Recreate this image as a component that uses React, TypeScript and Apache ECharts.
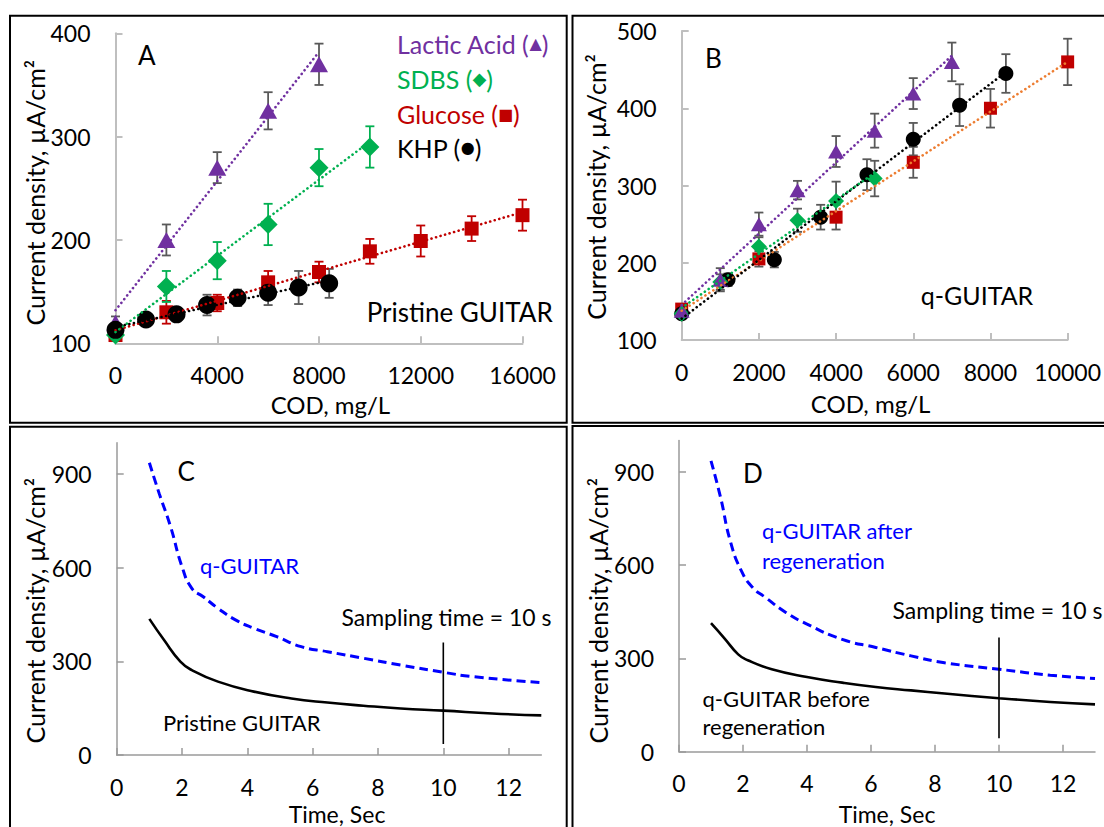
import React, { useEffect, useRef } from 'react';
import * as echarts from 'echarts';

// ---------- Panel A: Pristine GUITAR (COD mg/L vs current density) ----------
const A_LACTIC_X = [0, 2000, 4000, 6000, 8000];
const A_LACTIC_Y = [120, 200, 270, 325, 370];
const A_LACTIC_ERR = [6, 15, 15, 18, 20];
const A_SDBS_X = [0, 2000, 4000, 6000, 8000, 10000];
const A_SDBS_Y = [108, 155, 180, 215, 270, 290];
const A_SDBS_ERR = [4, 15, 18, 20, 18, 20];
const A_GLU_X = [0, 2000, 4000, 6000, 8000, 10000, 12000, 14000, 16000];
const A_GLU_Y = [108, 130, 139, 159, 169, 189, 199, 211, 224];
const A_GLU_ERR = [4, 11, 8, 11, 10, 12, 15, 12, 15];
const A_KHP_X = [0, 1200, 2400, 3600, 4800, 6000, 7200, 8400];
const A_KHP_Y = [113, 123, 128, 137, 144, 149, 154, 158];
const A_KHP_ERR = [4, 5, 6, 10, 8, 12, 16, 14];

// ---------- Panel B: q-GUITAR ----------
const B_LACTIC_X = [0, 1000, 2000, 3000, 4000, 5000, 6000, 7000];
const B_LACTIC_Y = [138, 178, 250, 294, 344, 371, 419, 460];
const B_LACTIC_ERR = [6, 15, 15, 12, 20, 22, 20, 25];
const B_SDBS_X = [0, 1000, 2000, 3000, 4000, 5000];
const B_SDBS_Y = [134, 175, 221, 255, 280, 309];
const B_SDBS_ERR = [5, 10, 12, 15, 25, 23];
const B_GLU_X = [0, 2000, 4000, 6000, 8000, 10000];
const B_GLU_Y = [140, 205, 259, 330, 400, 460];
const B_GLU_ERR = [5, 10, 16, 20, 25, 30];
const B_KHP_X = [0, 1200, 2400, 3600, 4800, 6000, 7200, 8400];
const B_KHP_Y = [134, 178, 204, 259, 314, 360, 404, 445];
const B_KHP_ERR = [5, 8, 10, 16, 20, 21, 27, 25];

// ---------- Panel C: current transients ----------
const C_Q_T = [1.0, 1.3, 1.65, 2.0, 2.3, 2.65, 3.1, 3.65, 4.2, 4.9, 5.65, 6.45, 7.55, 8.7, 10, 10.9, 13];
const C_Q_V = [936, 838, 731, 603, 534, 507, 470, 432, 406, 379, 347, 331, 310, 288, 265, 251, 232];
const C_P_T = [1.0, 1.45, 1.95, 2.3, 3.1, 4.2, 5.35, 6.45, 7.55, 8.7, 10, 11.5, 13];
const C_P_V = [436, 368, 299, 272, 235, 203, 181, 168, 158, 149, 142, 133, 127];
const C_SAMPLE_T = [10, 10];
const C_SAMPLE_V = [35, 360];

// ---------- Panel D: regeneration ----------
const D_Q_T = [1.0, 1.3, 1.6, 1.95, 2.3, 2.7, 3.35, 4.0, 5.1, 6.15, 7.25, 8.3, 10, 11.6, 13];
const D_Q_V = [935, 817, 678, 581, 528, 496, 447, 410, 361, 335, 308, 286, 265, 246, 235];
const D_P_T = [1.0, 1.4, 1.85, 2.15, 2.9, 4.0, 5.1, 6.15, 7.25, 8.3, 10, 11.6, 13];
const D_P_V = [413, 367, 313, 294, 265, 240, 222, 208, 197, 187, 172, 160, 152];
const D_SAMPLE_T = [10, 10];
const D_SAMPLE_V = [43, 367];

const CD_Y_TICKS = [0, 300, 600, 900];
const CD_X_TICKS = [0, 2, 4, 6, 8, 10, 12];

const FONT = 'Lato, "Open Sans", sans-serif';
const PURPLE = '#7030A0';
const GREEN = '#00B050';
const RED = '#C00000';
const ORANGE = '#ED7D31';
const BLUE = '#0000FF';
const ERR_GREY = '#595959';

const zip = (xs: number[], ys: number[]) => xs.map((x, i) => [x, ys[i]]);

function fitLine(xs: number[], ys: number[]) {
  const n = xs.length;
  const mx = xs.reduce((a, b) => a + b, 0) / n;
  const my = ys.reduce((a, b) => a + b, 0) / n;
  let sxy = 0;
  let sxx = 0;
  for (let i = 0; i < n; i++) {
    sxy += (xs[i] - mx) * (ys[i] - my);
    sxx += (xs[i] - mx) * (xs[i] - mx);
  }
  const k = sxy / sxx;
  const b = my - k * mx;
  return [
    [xs[0], b + k * xs[0]],
    [xs[n - 1], b + k * xs[n - 1]],
  ];
}

function errSeries(gi: number, xs: number[], ys: number[], errs: number[], color: string, cap: number) {
  return {
    type: 'custom',
    xAxisIndex: gi,
    yAxisIndex: gi,
    z: 1,
    silent: true,
    data: xs.map((x, i) => [x, ys[i] - errs[i], ys[i] + errs[i]]),
    encode: { x: 0, y: [1, 2] },
    renderItem: (_p: any, api: any) => {
      const lo = api.coord([api.value(0), api.value(1)]);
      const hi = api.coord([api.value(0), api.value(2)]);
      const style = { stroke: color, lineWidth: 1.8 };
      return {
        type: 'group',
        children: [
          { type: 'line', shape: { x1: lo[0], y1: lo[1], x2: hi[0], y2: hi[1] }, style },
          { type: 'line', shape: { x1: lo[0] - cap, y1: lo[1], x2: lo[0] + cap, y2: lo[1] }, style },
          { type: 'line', shape: { x1: hi[0] - cap, y1: hi[1], x2: hi[0] + cap, y2: hi[1] }, style },
        ],
      };
    },
  };
}

function scatter(gi: number, name: string, xs: number[], ys: number[], symbol: string, size: any, color: string, z = 2) {
  return {
    type: 'scatter',
    name,
    xAxisIndex: gi,
    yAxisIndex: gi,
    z,
    symbol,
    symbolSize: size,
    itemStyle: { color, opacity: 1 },
    data: zip(xs, ys),
  };
}

function trend(gi: number, xs: number[], ys: number[], color: string) {
  return {
    type: 'line',
    xAxisIndex: gi,
    yAxisIndex: gi,
    z: 3,
    symbol: 'none',
    silent: true,
    data: fitLine(xs, ys),
    lineStyle: { color, width: 2.6, type: [0.1, 4.6], cap: 'round' },
  };
}

function curve(gi: number, ts: number[], vs: number[], color: string, dashed: boolean) {
  return {
    type: 'line',
    xAxisIndex: gi,
    yAxisIndex: gi,
    z: 3,
    symbol: 'none',
    smooth: 0.5,
    silent: true,
    data: zip(ts, vs),
    lineStyle: dashed ? { color, width: 3, type: [9, 5] } : { color, width: 2.6, type: 'solid' },
  };
}

function vline(gi: number, ts: number[], vs: number[]) {
  return {
    type: 'line',
    xAxisIndex: gi,
    yAxisIndex: gi,
    z: 4,
    symbol: 'none',
    silent: true,
    data: zip(ts, vs),
    lineStyle: { color: '#000', width: 1.6 },
  };
}

const topAxisColor = '#BFBFBF';
const botAxisColor = '#9A9A9A';

function axisBase(color: string, margin: number, width = 2, customValues?: number[]) {
  const label: any = {
    color: '#000',
    fontSize: 23,
    fontFamily: FONT,
    margin,
    formatter: (v: number) => String(v),
  };
  const tick: any = { show: true, inside: true, length: 7, lineStyle: { color, width } };
  if (customValues) {
    label.customValues = customValues;
    tick.customValues = customValues;
  }
  return {
    splitLine: { show: false },
    axisLine: { show: true, onZero: false, lineStyle: { color, width } },
    axisTick: tick,
    axisLabel: label,
  };
}

function txt(text: string, x: number, y: number, size: number, color = '#000', align = 'left', rotation = 0) {
  return {
    type: 'text',
    x,
    y,
    rotation,
    z: 50,
    style: { text, fill: color, fontSize: size, fontFamily: FONT, align, verticalAlign: 'middle' },
  };
}

function legendTxt(label: string, sym: string, x: number, y: number, color: string, symSize: number) {
  return {
    type: 'text',
    x,
    y,
    z: 50,
    style: {
      text: `{t|${label} (}{s|${sym}}{t|)}`,
      fill: color,
      align: 'left',
      verticalAlign: 'middle',
      rich: {
        t: { fontSize: 25, fontFamily: FONT, fill: color },
        s: { fontSize: symSize, fontFamily: 'DejaVu Sans', fill: color },
      },
    },
  };
}

function box(x: number, y: number, w: number, h: number) {
  return {
    type: 'rect',
    z: 60,
    shape: { x, y, width: w, height: h },
    style: { fill: 'none', stroke: '#000', lineWidth: 2 },
  };
}

const Y_TITLE = 'Current density, µA/cm²';

export default function App() {
  const ref = useRef<HTMLDivElement>(null);
  useEffect(() => {
    if (!ref.current) return;
    const chart = echarts.init(ref.current, undefined, { renderer: 'svg' });
    const option: any = {
      animation: false,
      backgroundColor: '#fff',
      grid: [
        { left: 115.5, top: 33.3, width: 407, height: 310 },
        { left: 681.7, top: 31, width: 392.6, height: 309 },
        { left: 116.7, top: 442.8, width: 424.6, height: 312.2 },
        { left: 679, top: 440.6, width: 416, height: 311.1 },
      ],
      xAxis: [
        { gridIndex: 0, type: 'value', min: 0, max: 16000, interval: 4000, ...axisBase(topAxisColor, 20) },
        { gridIndex: 1, type: 'value', min: 0, max: 10000, interval: 2000, ...axisBase(topAxisColor, 20) },
        { gridIndex: 2, type: 'value', min: 0, max: 13, ...axisBase(botAxisColor, 20, 1.5, CD_X_TICKS) },
        { gridIndex: 3, type: 'value', min: 0, max: 13, ...axisBase(botAxisColor, 20, 1.5, CD_X_TICKS) },
      ],
      yAxis: [
        { gridIndex: 0, type: 'value', min: 100, max: 400, interval: 100, ...axisBase(topAxisColor, 25) },
        { gridIndex: 1, type: 'value', min: 100, max: 500, interval: 100, ...axisBase(topAxisColor, 25) },
        { gridIndex: 2, type: 'value', min: 0, max: 1000, ...axisBase(botAxisColor, 25, 1.5, CD_Y_TICKS) },
        { gridIndex: 3, type: 'value', min: 0, max: 1000, ...axisBase(botAxisColor, 25, 1.5, CD_Y_TICKS) },
      ],
      series: [
        // Panel A
        errSeries(0, A_GLU_X, A_GLU_Y, A_GLU_ERR, RED, 4.5),
        errSeries(0, A_SDBS_X, A_SDBS_Y, A_SDBS_ERR, GREEN, 4.5),
        errSeries(0, A_LACTIC_X, A_LACTIC_Y, A_LACTIC_ERR, ERR_GREY, 4.5),
        errSeries(0, A_KHP_X, A_KHP_Y, A_KHP_ERR, ERR_GREY, 4.5),
        scatter(0, 'Glucose', A_GLU_X, A_GLU_Y, 'rect', 14, RED),
        scatter(0, 'SDBS', A_SDBS_X, A_SDBS_Y, 'diamond', 19, GREEN),
        scatter(0, 'Lactic Acid', A_LACTIC_X, A_LACTIC_Y, 'triangle', [18, 16], PURPLE),
        scatter(0, 'KHP', A_KHP_X, A_KHP_Y, 'circle', 18, '#000'),
        trend(0, A_GLU_X, A_GLU_Y, RED),
        trend(0, A_SDBS_X, A_SDBS_Y, GREEN),
        trend(0, A_LACTIC_X, A_LACTIC_Y, PURPLE),
        trend(0, A_KHP_X, A_KHP_Y, '#000'),
        // Panel B
        errSeries(1, B_GLU_X, B_GLU_Y, B_GLU_ERR, ERR_GREY, 4.5),
        errSeries(1, B_KHP_X, B_KHP_Y, B_KHP_ERR, ERR_GREY, 4.5),
        errSeries(1, B_SDBS_X, B_SDBS_Y, B_SDBS_ERR, ERR_GREY, 4.5),
        errSeries(1, B_LACTIC_X, B_LACTIC_Y, B_LACTIC_ERR, ERR_GREY, 4.5),
        scatter(1, 'Glucose', B_GLU_X, B_GLU_Y, 'rect', 13, RED),
        scatter(1, 'KHP', B_KHP_X, B_KHP_Y, 'circle', 15, '#000'),
        scatter(1, 'SDBS', B_SDBS_X, B_SDBS_Y, 'diamond', 16, GREEN),
        scatter(1, 'Lactic Acid', B_LACTIC_X, B_LACTIC_Y, 'triangle', [16, 14], PURPLE),
        trend(1, B_GLU_X, B_GLU_Y, ORANGE),
        trend(1, B_KHP_X, B_KHP_Y, '#000'),
        trend(1, B_SDBS_X, B_SDBS_Y, GREEN),
        trend(1, B_LACTIC_X, B_LACTIC_Y, PURPLE),
        // Panel C
        curve(2, C_Q_T, C_Q_V, BLUE, true),
        curve(2, C_P_T, C_P_V, '#000', false),
        vline(2, C_SAMPLE_T, C_SAMPLE_V),
        // Panel D
        curve(3, D_Q_T, D_Q_V, BLUE, true),
        curve(3, D_P_T, D_P_V, '#000', false),
        vline(3, D_SAMPLE_T, D_SAMPLE_V),
      ],
      graphic: [
        box(10, 15.7, 556.7, 407),
        box(572.5, 15.7, 540, 407),
        box(10, 426.7, 556.7, 420),
        box(572.5, 426, 540, 420),
        // Panel A texts
        txt('A', 138, 55, 26),
        legendTxt('Lactic Acid', '▲', 397, 43.6, PURPLE, 16),
        legendTxt('SDBS', '◆', 397, 78.8, GREEN, 18),
        legendTxt('Glucose', '■', 397, 114, RED, 16),
        legendTxt('KHP', '●', 397, 147.5, '#000', 16),
        txt('Pristine GUITAR', 552.7, 311.7, 26, '#000', 'right'),
        txt(Y_TITLE, 34.5, 192.7, 25, '#000', 'center', Math.PI / 2),
        txt('COD, mg/L', 330.4, 404, 24, '#000', 'center'),
        // Panel B texts
        txt('B', 705, 58, 26),
        txt('q-GUITAR', 920.7, 294.7, 25),
        txt(Y_TITLE, 596, 187, 25, '#000', 'center', Math.PI / 2),
        txt('COD, mg/L', 870.6, 403, 24, '#000', 'center'),
        // Panel C texts
        txt('C', 177.6, 471, 26),
        txt('q-GUITAR', 200, 565, 22, BLUE),
        txt('Sampling time = 10 s', 341.4, 616.7, 23),
        txt('Pristine GUITAR', 163, 722, 22),
        txt(Y_TITLE, 34.5, 610.7, 25, '#000', 'center', Math.PI / 2),
        txt('Time, Sec', 337, 814, 23, '#000', 'center'),
        // Panel D texts
        txt('D', 742.9, 473.3, 26),
        txt('q-GUITAR after', 761.9, 530, 22, BLUE),
        txt('regeneration', 761.9, 560, 22, BLUE),
        txt('Sampling time = 10 s', 892.5, 610, 23),
        txt('q-GUITAR before', 702.5, 698.3, 22),
        txt('regeneration', 702.5, 726.7, 22),
        txt(Y_TITLE, 597.7, 610.7, 25, '#000', 'center', Math.PI / 2),
        txt('Time, Sec', 887, 814, 23, '#000', 'center'),
      ],
    };
    chart.setOption(option);
    return () => chart.dispose();
  }, []);
  return (
    <div
      ref={ref}
      style={{ position: 'absolute', left: 0, top: 0, width: 1104, height: 827, background: '#fff' }}
    />
  );
}
